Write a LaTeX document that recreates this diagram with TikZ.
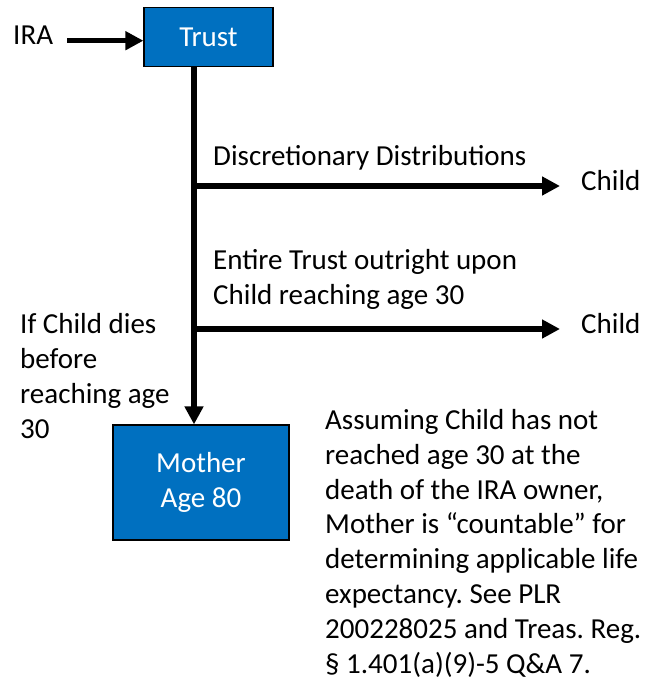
\documentclass[tikz,border=0pt]{standalone}
\usepackage{fontspec}
\setmainfont{Carlito}
\usetikzlibrary{arrows.meta}
\definecolor{boxblue}{RGB}{0,112,192}
\frenchspacing
\begin{document}
\begin{tikzpicture}[x=1pt,y=-1pt]
	\tikzstyle{Text} = [inner sep=0pt,font=\fontsize{29}{34.8}\selectfont,align=left]
	\tikzstyle{Box} = [draw=black,line width=1.2pt,fill=boxblue,text=white,inner sep=0pt,font=\fontsize{29}{34.5}\selectfont,align=center]
	\tikzstyle{Flow} = [line width=5.5pt,-{Triangle[length=18pt,width=18pt]}]
	\useasboundingbox (0,0) rectangle (651,687);
	\node[Box,minimum width=129pt,minimum height=59pt] (trust) at (208.5,37) {Trust};
	\node[Box,minimum width=176pt,minimum height=115pt] (mother) at (201,482.5) {Mother\\Age 80};
	\node[Text,anchor=base west] (ira) at (13,45) {IRA};
	\node[Text,anchor=base west] (dist) at (213,165) {Discretionary Distributions};
	\node[Text,anchor=base west] (outright) at (213,304) {Entire Trust outright upon\\Child reaching age 30};
	\node[Text,anchor=base west] (child1) at (581,190) {Child};
	\node[Text,anchor=base west] (child2) at (581,333) {Child};
	\node[Text,anchor=base west] (dies) at (20,438) {If Child dies\\before\\reaching age\\30};
	\node[Text,anchor=base west] (note) at (325,673) {Assuming Child has not\\reached age 30 at the\\death of the IRA owner,\\Mother is “countable” for\\determining applicable life\\expectancy. See PLR\\200228025 and Treas. Reg.\\§ 1.401(a)(9)-5 Q\&A 7.};
	\coordinate (split1) at (194,186);
	\coordinate (split2) at (194,329);
	\draw[Flow,shorten <=14pt] ([yshift=-5pt]ira.east) -- ([yshift=-5pt]ira.east -| trust.west);
	\draw[Flow] (trust.south -| split1) -- (split1 |- mother.north);
	\draw[Flow,shorten >=21pt] (split1) -- (split1 -| child1.west);
	\draw[Flow,shorten >=21pt] (split2) -- (split2 -| child2.west);
\end{tikzpicture}
\end{document}
